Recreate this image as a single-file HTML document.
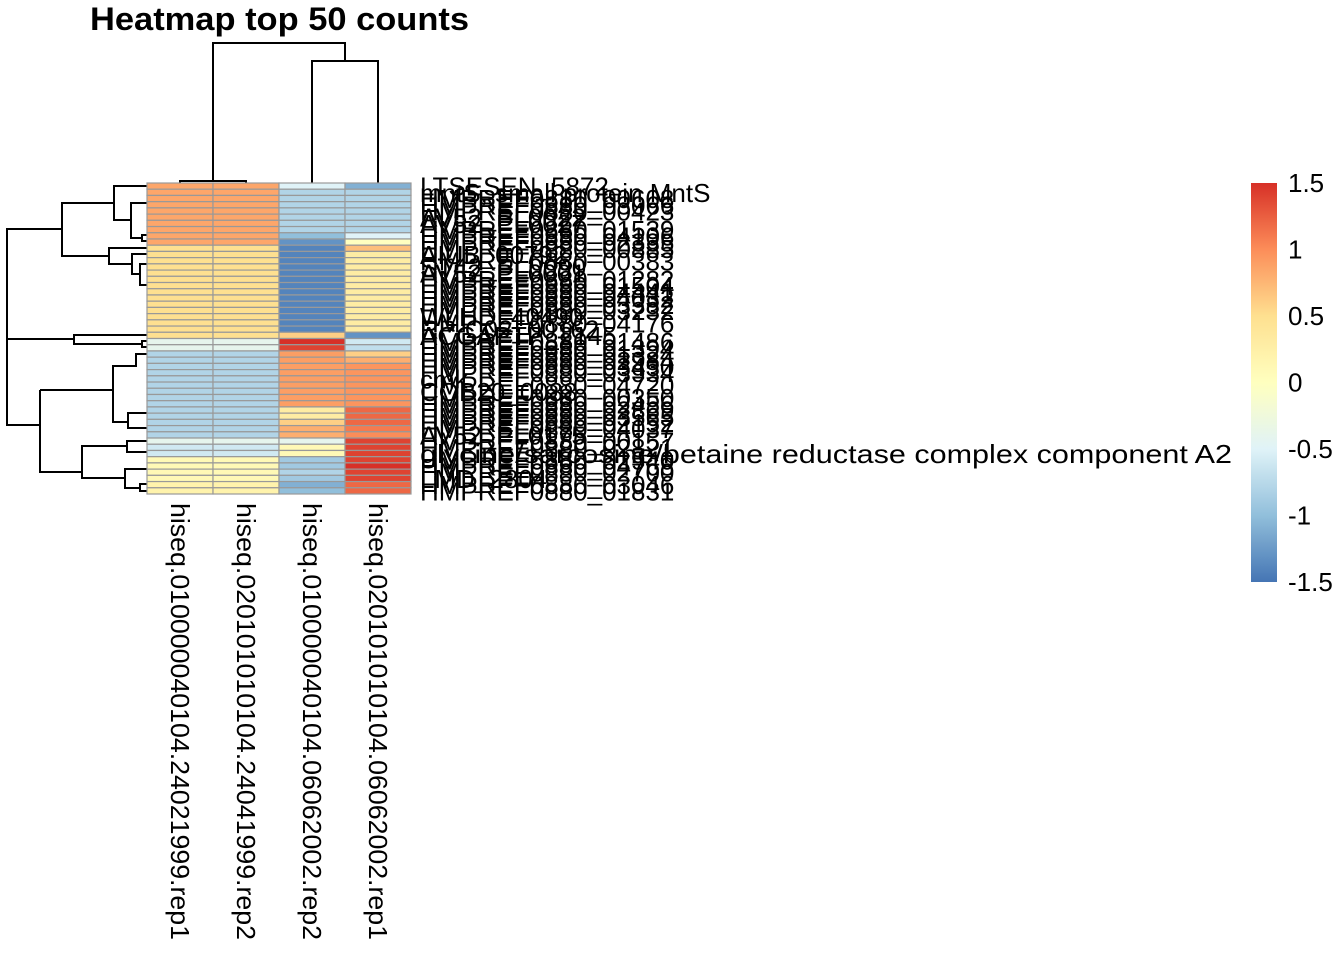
<!DOCTYPE html>
<html><head><meta charset="utf-8"><style>
body{margin:0;background:#fff;}
svg{display:block;font-family:"Liberation Sans",sans-serif;}
</style></head><body>
<svg id="chart" width="1344" height="960" xmlns="http://www.w3.org/2000/svg">
<text x="90" y="30" font-size="32" font-weight="bold" textLength="379" lengthAdjust="spacingAndGlyphs">Heatmap top 50 counts</text>
<g id="coldendro" stroke="#000" stroke-width="2" fill="none"></g>
<g id="rowdendro" stroke="#000" stroke-width="2" fill="none"></g>
<g id="cells"></g>
<g id="rowlabels" font-size="26"></g>
<g id="collabels" font-size="26"></g>
<g id="legend" font-size="26"></g>
</svg>
<script>
const columns = ["hiseq.010000040104.24021999.rep1","hiseq.020101010104.24041999.rep2","hiseq.010000040104.06062002.rep2","hiseq.020101010104.06062002.rep1"];
const col1 = [0.85,0.85,0.85,0.85,0.85,0.85,0.85,0.85,0.85,0.85,0.5,0.5,0.5,0.5,0.5,0.5,0.5,0.5,0.5,0.5,0.5,0.5,0.5,0.5,0.5,-0.4,-0.4,-0.8,-0.8,-0.8,-0.8,-0.8,-0.8,-0.8,-0.8,-0.8,-0.8,-0.8,-0.8,-0.8,-0.8,-0.4,-0.6,-0.6,0.1,0.1,0.1,0.1,0.2,0.2];
const col2 = col1.slice();
const col3 = [-0.5,-0.8,-0.8,-0.8,-0.8,-0.8,-0.8,-0.8,-1.0,-1.3,-1.4,-1.4,-1.4,-1.4,-1.4,-1.4,-1.4,-1.4,-1.4,-1.4,-1.4,-1.4,-1.4,-1.4,0.6,1.5,1.4,0.9,0.9,0.9,0.9,0.9,0.9,0.9,0.9,0.9,0.3,0.3,0.6,0.8,0.8,-0.4,0.1,0.1,-0.9,-0.9,-0.8,-0.9,-1.1,-1.0];
const col4 = [-1.1,-0.8,-0.8,-0.8,-0.8,-0.8,-0.8,-0.8,-0.5,0.0,0.7,0.3,0.3,0.3,0.3,0.3,0.3,0.3,0.3,0.3,0.3,0.3,0.3,0.3,-1.3,-0.6,-0.7,0.6,0.8,0.95,0.95,0.95,0.95,0.95,0.95,0.95,1.2,1.2,1.2,1.1,1.0,1.4,1.4,1.4,1.4,1.5,1.4,1.4,1.2,1.2];
const rowLabels = ["LTSESEN_5872","mntS, small protein MntS","HMPREF0880_00608","HMPREF0880_03066","HMPREF0880_00423","AV52_PL0022","AV52_PL0027","HMPREF0880_01539","HMPREF0880_04106","HMPREF0880_02335","HMPREF0880_00885","AIUB_00792","HMPREF0880_00383","ST42_PL0090","AV52_PL0001","HMPREF0880_01282","HMPREF0880_01504","HMPREF0880_04441","HMPREF0880_04032","HMPREF0880_03382","HMPREF0880_03232","WLHD_40490","HMPREF0880_04176","RP-C02_00162","ACGAPTP_2145","HMPREF0880_01486","HMPREF0880_01394","HMPREF0880_01324","HMPREF0880_02984","HMPREF0880_03430","HMPREF0880_03934","cmk","HMPREF0880_04720","COB20_0088","HMPREF0880_00350","HMPREF0880_02456","HMPREF0880_02869","HMPREF0880_03565","HMPREF0880_02152","HMPREF0880_04037","AV52_PL0175","HMPREF0880_00157","HMPREF0880_02821","glycine/sarcosine/betaine reductase complex component A2","HMPREF0880_02940","HMPREF0880_04768","HMPREF0880_02700","LMD_2804","HMPREF0880_03046","HMPREF0880_01831"];
const legendTicks = [1.5,1,0.5,0,-0.5,-1,-1.5];
const vmin = -1.5, vmax = 1.5;

const NS="http://www.w3.org/2000/svg";
const X0=147, Y0=183, CW=66, RH=311/50;
const pal=["#4575B4","#91BFDB","#E0F3F8","#FFFFBF","#FEE090","#FC8D59","#D73027"];
function hex(h){return [1,3,5].map(i=>parseInt(h.substr(i,2),16));}
function color(v){
  let t=(v-vmin)/(vmax-vmin); t=Math.max(0,Math.min(1,t));
  const p=t*(pal.length-1), i=Math.min(pal.length-2,Math.floor(p)), f=p-i;
  const a=hex(pal[i]), b=hex(pal[i+1]);
  return "rgb("+a.map((c,k)=>Math.round(c+(b[k]-c)*f)).join(",")+")";
}
function xc(j){return X0+j*CW;}
function yr(i){return Y0+i*RH;}
function mk(tag,parent){const e=document.createElementNS(NS,tag);parent.appendChild(e);return e;}
const series=[col1,col2,col3,col4];
const cells=document.getElementById("cells");
series.forEach((s,j)=>s.forEach((v,i)=>{
  const r=mk("rect",cells);
  r.setAttribute("x",xc(j));r.setAttribute("y",yr(i));
  r.setAttribute("width",CW);r.setAttribute("height",RH);
  r.setAttribute("fill",color(v));r.setAttribute("stroke","#999");r.setAttribute("stroke-width","1.2");
  
  
}));
const rl=document.getElementById("rowlabels");
rowLabels.forEach((l,i)=>{
  const t=mk("text",rl);
  t.setAttribute("x",420);t.setAttribute("y",yr(i)+RH/2+9.5);
  if(l.length>40){t.setAttribute("textLength",812);t.setAttribute("lengthAdjust","spacingAndGlyphs");}
  t.textContent=l;
  
  
});
const cl=document.getElementById("collabels");
columns.forEach((c,j)=>{
  const cx=xc(j)+CW/2-9, cy=503;
  const t=mk("text",cl);
  t.setAttribute("x",cx);t.setAttribute("y",cy);
  t.setAttribute("transform","rotate(90 "+cx+" "+cy+")");
  t.setAttribute("textLength",437);t.setAttribute("lengthAdjust","spacingAndGlyphs");
  t.textContent=c;
  
  
});
const cd=document.getElementById("coldendro");
function pl(g,pts,name){const p=mk("polyline",g);p.setAttribute("points",pts.map(q=>q.join(",")).join(" "));}
const c=[0,1,2,3].map(j=>xc(j)+CW/2);
pl(cd,[[c[0],183],[c[0],181],[c[1],181],[c[1],183]],"col-branch");
pl(cd,[[c[2],183],[c[2],61],[c[3],61],[c[3],183]],"col-branch");
const m1=(c[0]+c[1])/2, m2=(c[2]+c[3])/2;
pl(cd,[[m1,181],[m1,43],[m2,43],[m2,61]],"col-branch");
const rd=document.getElementById("rowdendro");
const L=147;
const segs=[
 [[L,186],[114,186],[114,220],[131,220]],
 [[L,203],[131,203],[131,238],[142,238]],
 [[L,235],[142,235],[142,241],[L,241]],
 [[114,203],[62,203],[62,256],[109,256]],
 [[L,248],[109,248],[109,264],[132,264]],
 [[L,254],[132,254],[132,274],[140,274]],
 [[L,264],[140,264],[140,285],[L,285]],
 [[62,229],[7,229],[7,425],[40,425]],
 [[7,339],[74,339]],
 [[L,335],[74,335],[74,344],[142,344]],
 [[L,341],[142,341],[142,347],[L,347]],
 [[40,390],[113,390]],
 [[40,390],[40,472],[82,472]],
 [[L,354],[136,354],[136,366],[113,366],[113,422],[128,422]],
 [[L,413],[128,413],[128,428],[L,428]],
 [[L,441],[127,441],[127,452],[L,452]],
 [[127,446],[82,446],[82,478],[125,478]],
 [[L,469],[125,469],[125,488],[140,488]],
 [[L,484],[140,484],[140,491],[L,491]]
];
segs.forEach(s=>pl(rd,s,"row-branch"));
const lg=document.getElementById("legend");
const LY0=183, LY1=582, LX=1251, LW=26;
const defs=mk("defs",lg);
const gr=mk("linearGradient",defs);gr.setAttribute("id","lgrad");
gr.setAttribute("x1","0");gr.setAttribute("y1","1");gr.setAttribute("x2","0");gr.setAttribute("y2","0");
for(let k=0;k<=30;k++){const st=mk("stop",gr);st.setAttribute("offset",k/30);st.setAttribute("stop-color",color(vmin+(vmax-vmin)*k/30));}
const lr=mk("rect",lg);
lr.setAttribute("x",LX);lr.setAttribute("y",LY0);lr.setAttribute("width",LW);lr.setAttribute("height",LY1-LY0);lr.setAttribute("fill","url(#lgrad)");


function ly(v){return LY1-(v-vmin)/(vmax-vmin)*(LY1-LY0);}
legendTicks.forEach(v=>{
  const t=mk("text",lg);
  t.setAttribute("x",1288);t.setAttribute("y",ly(v)+9);
  t.textContent=String(v);
  
  
});
</script>
</body></html>
